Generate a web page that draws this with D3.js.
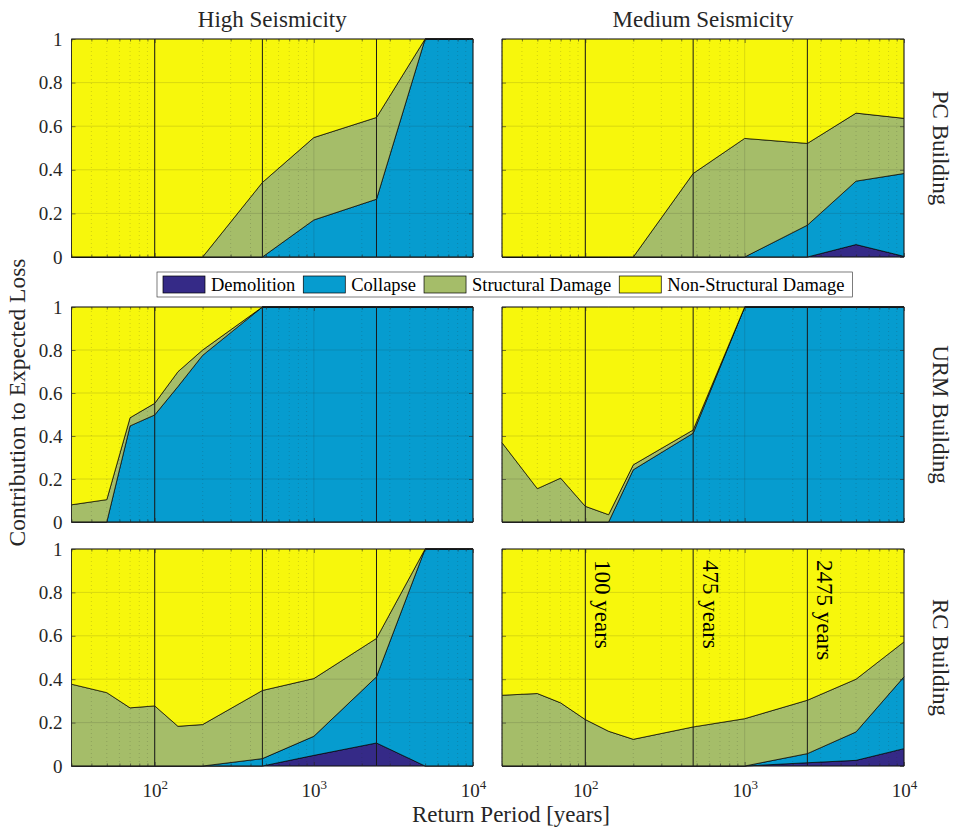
<!DOCTYPE html>
<html>
<head>
<meta charset="utf-8">
<script src="https://cdn.jsdelivr.net/npm/d3@7"></script>
<style>
  body { margin: 0; background: #fff; }
  svg { font-family: "Liberation Serif", "Times New Roman", serif; }
</style>
</head>
<body>
<svg id="chart" width="954" height="828"></svg>
<script>
// return periods [years] shared by every panel
const returnPeriods = [30, 50, 70, 100, 140, 200, 475, 1000, 2475, 5000, 10000];
const categories = ['Demolition', 'Collapse', 'Structural Damage', 'Non-Structural Damage'];
const seismicity = ['High Seismicity', 'Medium Seismicity'];
const buildings = ['PC Building', 'URM Building', 'RC Building'];
const markerYears = [100, 475, 2475];
const yTicks = [0, 0.2, 0.4, 0.6, 0.8, 1];
const xTicks = [100, 1000, 10000];

// high seismicity, PC
const hsPcDemolition = [0, 0, 0, 0, 0, 0, 0, 0, 0, 0, 0];
const hsPcCollapse   = [0, 0, 0, 0, 0, 0, 0, 0.17, 0.265, 1, 1];
const hsPcStructural = [0, 0, 0, 0, 0, 0, 0.342, 0.378, 0.375, 0, 0];
const hsPcNonStruct  = [1, 1, 1, 1, 1, 1, 0.658, 0.452, 0.36, 0, 0];
// medium seismicity, PC
const msPcDemolition = [0, 0, 0, 0, 0, 0, 0, 0, 0, 0.057, 0.003];
const msPcCollapse   = [0, 0, 0, 0, 0, 0, 0, 0, 0.146, 0.291, 0.38];
const msPcStructural = [0, 0, 0, 0, 0, 0, 0.383, 0.544, 0.375, 0.312, 0.253];
const msPcNonStruct  = [1, 1, 1, 1, 1, 1, 0.617, 0.456, 0.479, 0.34, 0.364];
// high seismicity, URM
const hsUrmDemolition = [0, 0, 0, 0, 0, 0, 0, 0, 0, 0, 0];
const hsUrmCollapse   = [0, 0, 0.447, 0.498, 0.63, 0.775, 1, 1, 1, 1, 1];
const hsUrmStructural = [0.08, 0.104, 0.038, 0.054, 0.069, 0.025, 0, 0, 0, 0, 0];
const hsUrmNonStruct  = [0.92, 0.896, 0.515, 0.448, 0.301, 0.2, 0, 0, 0, 0, 0];
// medium seismicity, URM
const msUrmDemolition = [0, 0, 0, 0, 0, 0, 0, 0, 0, 0, 0];
const msUrmCollapse   = [0, 0, 0, 0, 0, 0.243, 0.413, 1, 1, 1, 1];
const msUrmStructural = [0.369, 0.155, 0.204, 0.073, 0.034, 0.023, 0.015, 0, 0, 0, 0];
const msUrmNonStruct  = [0.631, 0.845, 0.796, 0.927, 0.966, 0.734, 0.572, 0, 0, 0, 0];
// high seismicity, RC
const hsRcDemolition = [0, 0, 0, 0, 0, 0, 0, 0.049, 0.106, 0, 0];
const hsRcCollapse   = [0, 0, 0, 0, 0, 0, 0.034, 0.088, 0.305, 1, 1];
const hsRcStructural = [0.377, 0.338, 0.268, 0.277, 0.183, 0.191, 0.314, 0.266, 0.177, 0, 0];
const hsRcNonStruct  = [0.623, 0.662, 0.732, 0.723, 0.817, 0.809, 0.652, 0.597, 0.412, 0, 0];
// medium seismicity, RC
const msRcDemolition = [0, 0, 0, 0, 0, 0, 0, 0, 0.015, 0.026, 0.08];
const msRcCollapse   = [0, 0, 0, 0, 0, 0, 0, 0, 0.042, 0.131, 0.331];
const msRcStructural = [0.326, 0.334, 0.291, 0.214, 0.16, 0.123, 0.18, 0.218, 0.246, 0.243, 0.161];
const msRcNonStruct  = [0.674, 0.666, 0.709, 0.786, 0.84, 0.877, 0.82, 0.782, 0.697, 0.6, 0.428];

const panels = [
  {row: 0, col: 0, series: [hsPcDemolition, hsPcCollapse, hsPcStructural, hsPcNonStruct]},
  {row: 0, col: 1, series: [msPcDemolition, msPcCollapse, msPcStructural, msPcNonStruct]},
  {row: 1, col: 0, series: [hsUrmDemolition, hsUrmCollapse, hsUrmStructural, hsUrmNonStruct]},
  {row: 1, col: 1, series: [msUrmDemolition, msUrmCollapse, msUrmStructural, msUrmNonStruct]},
  {row: 2, col: 0, series: [hsRcDemolition, hsRcCollapse, hsRcStructural, hsRcNonStruct]},
  {row: 2, col: 1, series: [msRcDemolition, msRcCollapse, msRcStructural, msRcNonStruct]}
];

const colors = ['#352a87', '#069ccf', '#a5bd69', '#f7f70c'];
const axisColor = '#262626';
const fontFamily = '"Liberation Serif", "Times New Roman", serif';
const colX = [[71.5, 473], [502, 904]];
const rowY = [[39, 257], [307, 522], [549, 766]];

const svg = d3.select('#chart');

// minor log ticks: 2..9 per decade inside the domain
let minorTicks = [];
[10, 100, 1000].forEach(dec => {
  for (let k = 2; k <= 9; k++) {
    const v = k * dec;
    if (v >= 30 && v < 10000) minorTicks.push(v);
  }
});

panels.forEach(p => {
  const [x0, x1] = colX[p.col];
  const [y0, y1] = rowY[p.row];
  const x = d3.scaleLog().domain([30, 10000]).range([x0, x1]);
  const y = d3.scaleLinear().domain([0, 1]).range([y1, y0]);

  const rows = returnPeriods.map((rp, i) => {
    const r = {rp: rp};
    categories.forEach((c, j) => r[c] = p.series[j][i]);
    return r;
  });
  const stacked = d3.stack().keys(categories)(rows);

  const area = d3.area()
    .x(d => x(d.data.rp))
    .y0(d => y(d[0]))
    .y1(d => y(d[1]));

  const g = svg.append('g');

  g.selectAll('.area')
    .data(stacked)
    .enter()
    .append('path')
    .attr('class', 'area')
    .attr('d', area)
    .style('fill', (d, i) => colors[i])
    .style('stroke', '#000')
    .style('stroke-width', 0.7)
    .style('stroke-linejoin', 'round');

  // grid on top of the areas (matlab layer top)
  g.selectAll('.minor-grid')
    .data(minorTicks)
    .enter()
    .append('line')
    .attr('x1', d => x(d)).attr('x2', d => x(d))
    .attr('y1', y0).attr('y2', y1)
    .style('stroke', axisColor)
    .style('stroke-opacity', 0.3)
    .style('stroke-width', 0.6)
    .style('stroke-dasharray', '1,3');

  g.selectAll('.major-grid-x')
    .data([100, 1000])
    .enter()
    .append('line')
    .attr('x1', d => x(d)).attr('x2', d => x(d))
    .attr('y1', y0).attr('y2', y1)
    .style('stroke', axisColor)
    .style('stroke-opacity', 0.18)
    .style('stroke-width', 0.8);

  g.selectAll('.major-grid-y')
    .data(yTicks.slice(1, -1))
    .enter()
    .append('line')
    .attr('x1', x0).attr('x2', x1)
    .attr('y1', d => y(d)).attr('y2', d => y(d))
    .style('stroke', axisColor)
    .style('stroke-opacity', 0.18)
    .style('stroke-width', 0.8);

  // return period markers
  g.selectAll('.marker')
    .data(markerYears)
    .enter()
    .append('line')
    .attr('x1', d => x(d)).attr('x2', d => x(d))
    .attr('y1', y0).attr('y2', y1)
    .style('stroke', '#1a1a1a')
    .style('stroke-width', 1);

  // axes, ticks pointing inward
  const bottom = g.append('g')
    .attr('transform', `translate(0, ${y1})`)
    .call(d3.axisBottom(x).tickValues(xTicks).tickSizeInner(-4).tickSizeOuter(0).tickFormat(''));
  g.append('g')
    .attr('transform', `translate(0, ${y1})`)
    .call(d3.axisBottom(x).tickValues(minorTicks).tickSizeInner(-2.5).tickSizeOuter(0).tickFormat(''));
  g.append('g')
    .attr('transform', `translate(0, ${y0})`)
    .call(d3.axisTop(x).tickValues(xTicks).tickSizeInner(-4).tickSizeOuter(0).tickFormat(''));
  g.append('g')
    .attr('transform', `translate(0, ${y0})`)
    .call(d3.axisTop(x).tickValues(minorTicks).tickSizeInner(-2.5).tickSizeOuter(0).tickFormat(''));
  const left = g.append('g')
    .attr('transform', `translate(${x0}, 0)`)
    .call(d3.axisLeft(y).tickValues(yTicks).tickSizeInner(-4).tickSizeOuter(0)
      .tickPadding(9).tickFormat(d => p.col === 0 ? d3.format('~g')(d) : ''));
  g.append('g')
    .attr('transform', `translate(${x1}, 0)`)
    .call(d3.axisRight(y).tickValues(yTicks).tickSizeInner(-4).tickSizeOuter(0).tickFormat(''));

  // d3 axes put sans-serif on their groups, switch back to the serif face
  g.selectAll('g').attr('font-family', fontFamily);
  g.selectAll('.domain').remove();
  g.selectAll('.tick line').style('stroke', axisColor).style('stroke-width', 0.6);
  left.selectAll('.tick text')
    .style('font-family', fontFamily)
    .style('font-size', '19px')
    .style('fill', axisColor);

  if (p.row === 2) {
    const t = bottom.selectAll('.tick').append('text')
      .attr('y', 31)
      .attr('text-anchor', 'middle')
      .style('font-family', fontFamily)
      .style('font-size', '19px')
      .style('fill', axisColor);
    t.append('tspan').text('10');
    t.append('tspan')
      .attr('dy', -8)
      .style('font-size', '13px')
      .text(d => Math.round(Math.log10(d)));
  }

  g.append('rect')
    .attr('x', x0).attr('y', y0)
    .attr('width', x1 - x0).attr('height', y1 - y0)
    .style('fill', 'none')
    .style('stroke', axisColor)
    .style('stroke-width', 0.6);

  // marker captions in the medium seismicity RC panel
  if (p.row === 2 && p.col === 1) {
    g.selectAll('.caption')
      .data(markerYears)
      .enter()
      .append('text')
      .attr('transform', d => `translate(${x(d) + 10}, ${y0 + 11}) rotate(90)`)
      .style('font-size', '23px')
      .style('fill', '#000')
      .text(d => d + ' years');
  }
});

// column titles
svg.selectAll('.col-title')
  .data(seismicity)
  .enter()
  .append('text')
  .attr('x', (d, i) => (colX[i][0] + colX[i][1]) / 2)
  .attr('y', 27)
  .attr('text-anchor', 'middle')
  .style('font-size', '23px')
  .style('fill', axisColor)
  .text(d => d);

// row labels on the right
svg.selectAll('.row-label')
  .data(buildings)
  .enter()
  .append('text')
  .attr('transform', (d, i) => `translate(933, ${(rowY[i][0] + rowY[i][1]) / 2}) rotate(90)`)
  .attr('text-anchor', 'middle')
  .style('font-size', '23px')
  .style('fill', axisColor)
  .text(d => d);

svg.append('text')
  .attr('transform', `translate(25, ${(rowY[0][0] + rowY[2][1]) / 2}) rotate(-90)`)
  .attr('text-anchor', 'middle')
  .style('font-size', '23.5px')
  .style('fill', axisColor)
  .text('Contribution to Expected Loss');

svg.append('text')
  .attr('x', 511)
  .attr('y', 822)
  .attr('text-anchor', 'middle')
  .style('font-size', '23px')
  .style('fill', axisColor)
  .text('Return Period [years]');

// legend
const legend = svg.append('g');
const legendBox = legend.append('rect')
  .attr('y', 272).attr('height', 25)
  .style('fill', '#fff')
  .style('stroke', axisColor)
  .style('stroke-width', 0.6);
let lx = 163;
categories.forEach((c, i) => {
  legend.append('rect')
    .attr('x', lx).attr('y', 276)
    .attr('width', 42).attr('height', 17)
    .style('fill', colors[i])
    .style('stroke', '#000')
    .style('stroke-width', 0.7);
  const t = legend.append('text')
    .attr('x', lx + 48).attr('y', 291)
    .style('font-size', '18.5px')
    .style('fill', '#000')
    .text(c);
  lx += 48 + t.node().getComputedTextLength() + 8;
});
legendBox.attr('x', 157).attr('width', lx - 157);
</script>
</body>
</html>
